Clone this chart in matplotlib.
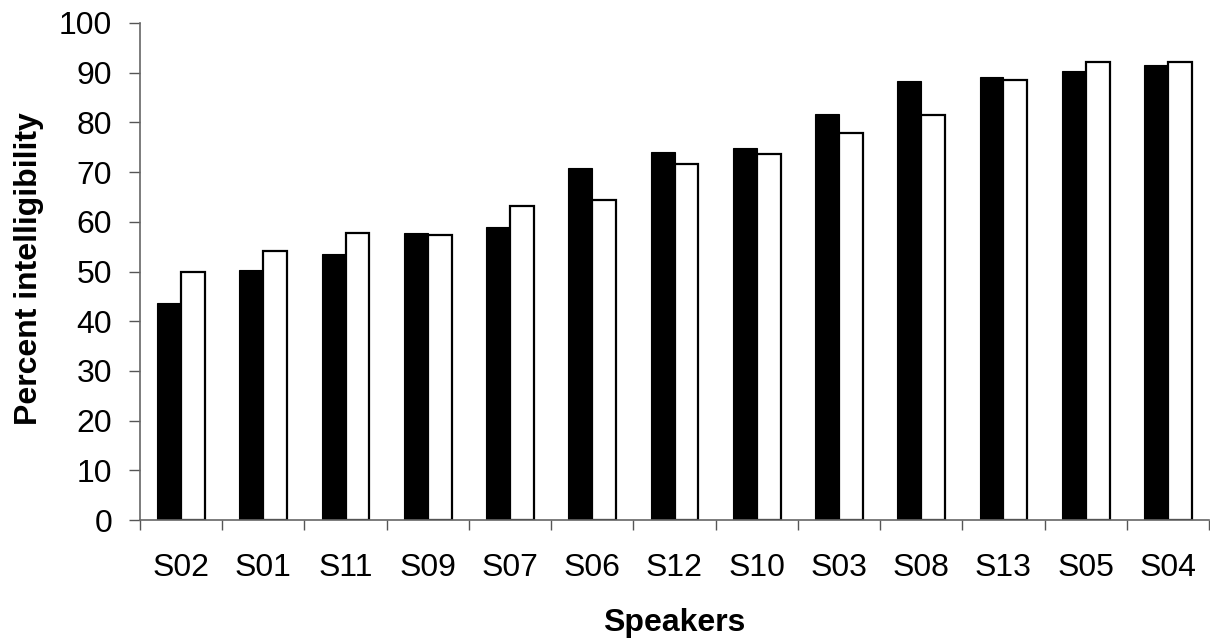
import matplotlib
matplotlib.use('Agg')
import matplotlib.pyplot as plt
import numpy as np

speakers = ['S02', 'S01', 'S11', 'S09', 'S07', 'S06', 'S12', 'S10', 'S03', 'S08', 'S13', 'S05', 'S04']
black_vals = [43.6, 50.3, 53.5, 57.8, 59.0, 70.9, 74.1, 74.8, 81.6, 88.3, 89.1, 90.3, 91.5]
white_vals = [49.8, 54.2, 57.7, 57.3, 63.2, 64.4, 71.6, 73.6, 77.9, 81.4, 88.6, 92.2, 92.2]
y_ticks = [0, 10, 20, 30, 40, 50, 60, 70, 80, 90, 100]

plt.rcParams['font.family'] = ['Liberation Sans', 'DejaVu Sans']

fig = plt.figure(figsize=(12.10, 6.42), dpi=100)
ax = fig.add_axes([140 / 1210, 122 / 642, 1069 / 1210, 497 / 642])

x = np.arange(len(speakers))
w = 0.29
ax.bar(x - w / 2, black_vals, w, color='black', edgecolor='black', linewidth=0.8)
ax.bar(x + w / 2, white_vals, w, color='white', edgecolor='black', linewidth=1.6)

ax.set_xlim(-0.5, len(speakers) - 0.5)
ax.set_ylim(0, 100)
ax.set_yticks(y_ticks)
ax.tick_params(axis='y', labelsize=23, length=8, width=1, color='#555555', pad=12)

# ticks between categories, labels centered
ax.set_xticks(np.arange(-0.5, len(speakers), 1.0))
ax.set_xticklabels([])
ax.set_xticks(x, minor=True)
ax.set_xticklabels(speakers, minor=True, fontsize=23)
ax.tick_params(axis='x', which='major', length=7, width=1, color='#555555')
ax.tick_params(axis='x', which='minor', length=0, pad=24)

for s in ['top', 'right']:
    ax.spines[s].set_visible(False)
for s in ['left', 'bottom']:
    ax.spines[s].set_color('#666666')
    ax.spines[s].set_linewidth(1.2)

fig.text(674 / 1210, 11 / 642, 'Speakers', fontsize=23, fontweight='bold',
         ha='center', va='baseline')
fig.text(29 / 1210, 1 - 269 / 642, 'Percent intelligibility', fontsize=23,
         fontweight='bold', rotation=90, ha='center', va='center')

fig.savefig('out.png', dpi=100)
